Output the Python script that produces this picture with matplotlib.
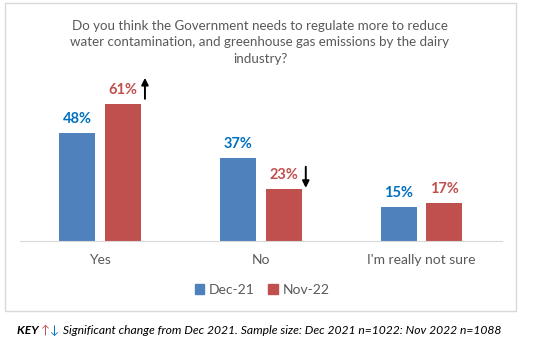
import numpy as np
import matplotlib.pyplot as plt
from matplotlib.patches import Rectangle, Patch

plt.rcParams['font.family'] = ['Lato', 'DejaVu Sans']

# survey answers, % of respondents
categories = ['Yes', 'No', "I'm really not sure"]
dec21 = [48, 37, 15]
nov22 = [61, 23, 17]
series_names = ['Dec-21', 'Nov-22']
# significant change markers for Nov-22 (+1 up, -1 down, 0 none)
change = [1, -1, 0]

title = ('Do you think the Government needs to regulate more to reduce\n'
         'water contamination, and greenhouse gas emissions by the dairy\n'
         'industry?')
footnote = 'Significant change from Dec 2021. Sample size: Dec 2021 n=1022: Nov 2022 n=1088'

W, H = 538, 345
BLUE, RED = '#4f81bd', '#c0504d'
BLUE_TXT, RED_TXT = '#0070c0', '#c0504d'
GREY = '#595959'

fig = plt.figure(figsize=(W / 100, H / 100), dpi=100)

def fx(x):
    return x / W

def fy(y):
    return 1 - y / H

# light frame around the chart area
fig.patches.append(Rectangle((fx(5), fy(311)), fx(516) - fx(5), fy(3) - fy(311),
                             transform=fig.transFigure, fill=False,
                             edgecolor='#d9d9d9', lw=1))

ax = fig.add_axes([fx(19.5), fy(241), fx(502) - fx(19.5), 157.5 / H])
x = np.arange(len(categories))
bw, off = 0.224, 0.142
b1 = ax.bar(x - off, dec21, bw, color=BLUE)
b2 = ax.bar(x + off, nov22, bw, color=RED)
ax.set_xlim(-0.5, len(categories) - 0.5)
ax.set_ylim(0, 70)

for bars, vals, col in [(b1, dec21, BLUE_TXT), (b2, nov22, RED_TXT)]:
    for b, v in zip(bars, vals):
        ax.annotate(f'{v}%', (b.get_x() + b.get_width() / 2, v),
                    xytext=(0, 5), textcoords='offset points',
                    ha='center', va='bottom', color=col,
                    fontsize=10.5, fontweight='bold')

# arrows for significant changes
for i, (v, c) in enumerate(zip(nov22, change)):
    if c == 0:
        continue
    ax_x = i + 0.28
    if c > 0:
        start, end = v + 2.2, v + 11.5
    else:
        start, end = v + 10, v + 0.6
    ax.annotate('', xy=(ax_x, end), xytext=(ax_x, start),
                arrowprops=dict(arrowstyle='-|>', color='black', lw=1.4,
                                mutation_scale=10, shrinkA=0, shrinkB=0),
                annotation_clip=False)

for s in ['left', 'right', 'top']:
    ax.spines[s].set_visible(False)
ax.spines['bottom'].set_color('#d9d9d9')
ax.set_yticks([])
ax.set_xticks(x)
ax.set_xticklabels(categories, fontsize=10, color=GREY)
ax.tick_params(axis='x', length=0, pad=9)

fig.text(fx(260), fy(20), title, ha='center', va='top', fontsize=9.6,
         color=GREY, linespacing=1.45)

handles = [Patch(color=BLUE), Patch(color=RED)]
fig.legend(handles, series_names, loc='center', bbox_to_anchor=(fx(262), fy(290)),
           ncol=2, frameon=False, fontsize=10, labelcolor=GREY,
           handlelength=0.7, handleheight=0.7, handletextpad=0.3,
           columnspacing=1.0)

# footnote pieces: bold KEY, coloured arrows, italic text
fig.canvas.draw()
r = fig.canvas.get_renderer()
xpos = fx(17)
pieces = [('KEY ', 'black', 'bold'), ('\u2191', RED, 'normal'),
          ('\u2193', BLUE_TXT, 'normal'), (' ' + footnote, 'black', 'normal')]
for txt, col, wt in pieces:
    t = fig.text(xpos, fy(330), txt, ha='left', va='center', fontsize=8.7,
                 style='italic', fontweight=wt, color=col)
    bb = t.get_window_extent(r)
    xpos += bb.width / W

fig.savefig('out.png', dpi=100)
